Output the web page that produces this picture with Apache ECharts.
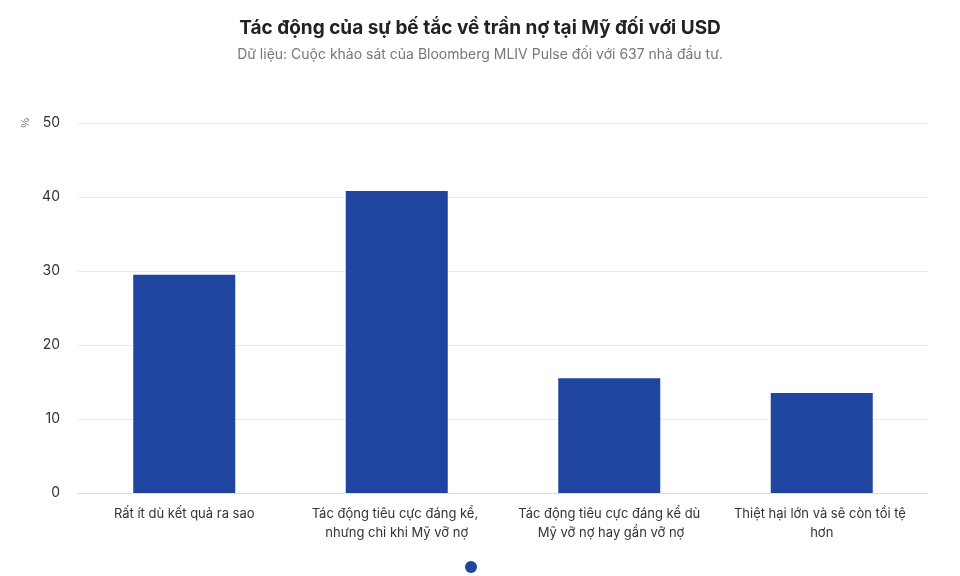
<!DOCTYPE html>
<html><head><meta charset="utf-8">
<script src="https://cdn.jsdelivr.net/npm/echarts@6/dist/echarts.min.js"></script>
<style>html,body{margin:0;background:#fff}#main{width:960px;height:576px}</style>
</head><body><div id="main"></div>
<script>
var categories = ['Rất ít dù kết quả ra sao', 'Tác động tiêu cực đáng kể, nhưng chỉ khi Mỹ vỡ nợ', 'Tác động tiêu cực đáng kể dù Mỹ vỡ nợ hay gần vỡ nợ', 'Thiệt hại lớn và sẽ còn tồi tệ hơn'];
var values = [29.5, 40.8, 15.5, 13.5];

var myChart = echarts.init(document.getElementById('main'));
myChart.setOption({
    textStyle: { fontFamily: 'Inter, Roboto, sans-serif' },
    title: {
        text: 'Tác động của sự bế tắc về trần nợ tại Mỹ đối với USD',
        subtext: 'Dữ liệu: Cuộc khảo sát của Bloomberg MLIV Pulse đối với 637 nhà đầu tư.',
        left: 'center', top: 14, itemGap: 10,
        textStyle: { fontSize: 19, fontWeight: 'bold', color: '#222' },
        subtextStyle: { fontSize: 14, color: '#777' }
    },
    grid: { left: 78, right: 32, top: 123, bottom: 83 },
    xAxis: {
        type: 'category', data: categories,
        axisTick: { show: false },
        axisLine: { lineStyle: { color: '#ddd' } },
        axisLabel: { color: '#333', fontSize: 13, interval: 0, width: 232, overflow: 'break', margin: 12, lineHeight: 19 }
    },
    yAxis: {
        type: 'value', min: 0, max: 50, interval: 10,
        axisLabel: { color: '#333', fontSize: 14, margin: 18 },
        splitLine: { lineStyle: { color: '#ececec' } }
    },
    graphic: [
        { type: 'text', left: 20, top: 118, rotation: Math.PI / 2, style: { text: '%', fill: '#777', fontSize: 11 } },
        { type: 'circle', shape: { cx: 471, cy: 567, r: 6 }, style: { fill: '#1f45a0' } }
    ],
    series: [{
        type: 'bar', data: values, barWidth: 102,
        itemStyle: { color: '#1f45a0' }
    }]
});
</script></body></html>
